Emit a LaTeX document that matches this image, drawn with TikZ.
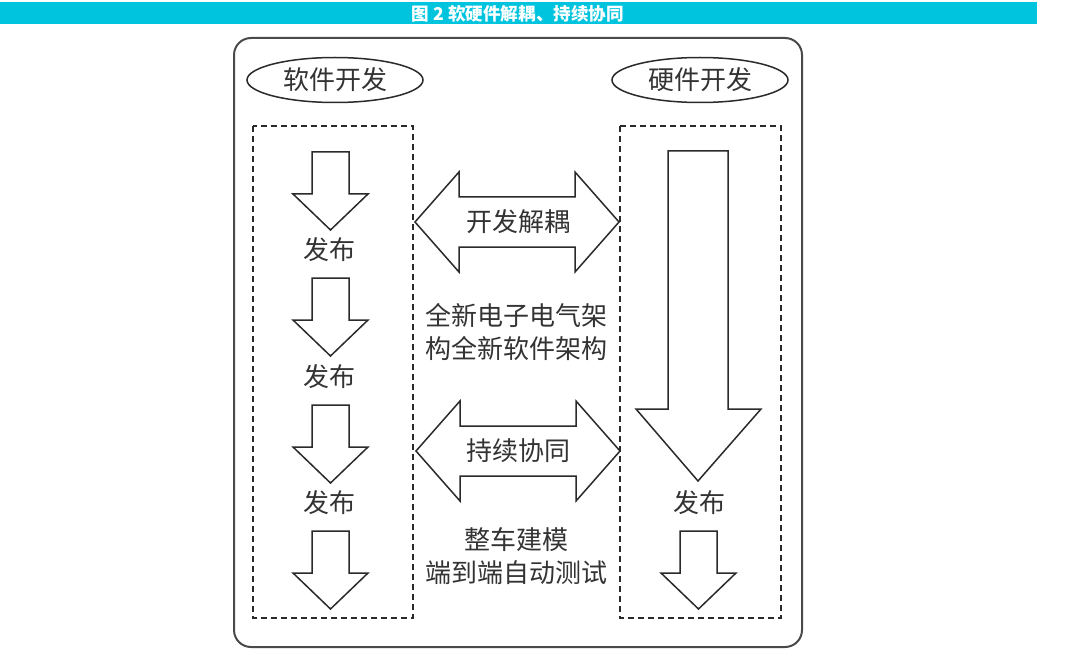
\documentclass[tikz,border=0pt]{standalone}
\usepackage{fontspec}
\newfontfamily\cjk{Noto Sans CJK SC}
\usetikzlibrary{shapes.geometric}
\definecolor{barcyan}{HTML}{00C4DE}
\definecolor{ink}{HTML}{2A2A2A}
\definecolor{txt}{HTML}{333333}
\tikzset{
  shapeline/.style={draw=ink, line width=0.75pt, fill=white, line join=miter},
  dashbox/.style={draw=ink, line width=0.6pt, dash pattern=on 3pt off 2pt},
  lbl/.style={font=\cjk\fontsize{13}{16.5}\selectfont, text=txt, inner sep=0pt, align=center},
  ellnode/.style={lbl, ellipse, draw=ink, line width=0.75pt, minimum width=88pt, minimum height=22.5pt},
  smallarrow/.pic={\draw[shapeline] (-18.5,0)--(18.5,0)--(18.5,42)--(37.5,42)--(0,78)--(-37.5,42)--(-18.5,42)--cycle;},
  dblarrow/.pic={\draw[shapeline] (-102,0)--(-58,-50)--(-58,-25)--(58,-25)--(58,-50)--(102,0)--(58,50)--(58,25)--(-58,25)--(-58,50)--cycle;}
}
\begin{document}
\begin{tikzpicture}[x=0.5pt,y=-0.5pt]
\useasboundingbox (0,0) rectangle (1080,663);
% title bar
\fill[barcyan] (0,2) rectangle (1037,24);
\node[font=\cjk\bfseries\fontsize{8.8}{10}\selectfont, text=white, inner sep=0pt] (title) at (518,13.5) {图 2 软硬件解耦、持续协同};
% outer frame
\draw[draw=ink!85, line width=1pt, rounded corners=8.5pt] (234,38) rectangle (802,647);
% ellipses
\node[ellnode] (sw) at (335,80) {软件开发};
\node[ellnode] (hw) at (700,80) {硬件开发};
% dashed boxes
\draw[dashbox] (253,126) rectangle (413,618);
\draw[dashbox] (620,126) rectangle (781,618);
% left column arrows
\pic at (330.5,152) {smallarrow};
\pic at (330.5,278) {smallarrow};
\pic at (330.5,405) {smallarrow};
\pic at (330.5,531) {smallarrow};
\node[lbl] (r1) at (329,250) {发布};
\node[lbl] (r2) at (329,377) {发布};
\node[lbl] (r3) at (329,503) {发布};
% right column
\draw[shapeline] (668,151)--(728,151)--(728,409)--(761,409)--(698,481)--(636,409)--(668,409)--cycle;
\node[lbl] (r4) at (699,503) {发布};
\pic at (698.5,531) {smallarrow};
% double arrows
\pic at (517,222) {dblarrow};
\node[lbl] (d1) at (518,222) {开发解耦};
\pic at (518,451) {dblarrow};
\node[lbl] (d2) at (518,451) {持续协同};
% middle texts
\node[lbl] (m1) at (516,332) {全新电子电气架\\构全新软件架构};
\node[lbl] (m2) at (516,556) {整车建模\\端到端自动测试};
\end{tikzpicture}
\end{document}
